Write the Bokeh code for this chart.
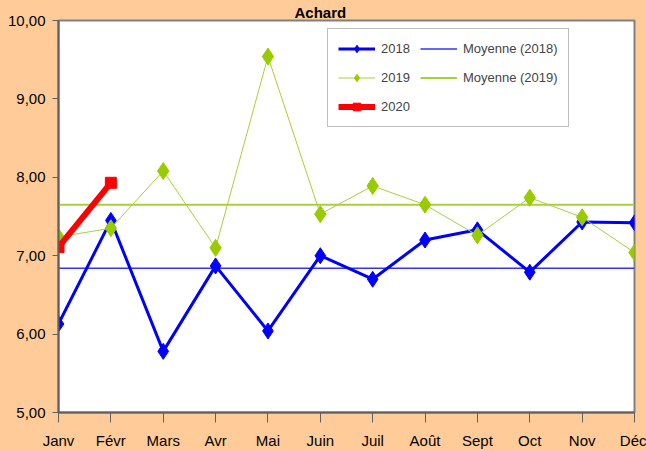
from bokeh.plotting import figure
from bokeh.models import Range1d, FixedTicker, Legend, LegendItem
from bokeh.embed import file_html
from bokeh.resources import INLINE

months = ["Janv", "Févr", "Mars", "Avr", "Mai", "Juin", "Juil", "Août", "Sept", "Oct", "Nov", "Déc"]
v2018 = [6.13, 7.45, 5.78, 6.87, 6.04, 7.00, 6.70, 7.20, 7.33, 6.79, 7.43, 7.42]
v2019 = [7.24, 7.35, 8.08, 7.10, 9.54, 7.53, 7.89, 7.65, 7.26, 7.74, 7.49, 7.04]
v2020 = [7.11, 7.93]
mean2018 = 6.84
mean2019 = 7.65
y_ticks = [5, 6, 7, 8, 9, 10]
y_tick_labels = ["5,00", "6,00", "7,00", "8,00", "9,00", "10,00"]
title_text = "Achard"

FONT = "'Liberation Sans Narrow', 'Liberation Sans', Arial, sans-serif"
PEACH = "#FFCC99"

x = list(range(len(months)))

p = figure(width=646, height=451, output_backend="svg", toolbar_location=None,
           x_range=Range1d(0, 11), y_range=Range1d(5, 10),
           min_border_left=58, min_border_right=12, min_border_top=20, min_border_bottom=38,
           background_fill_color="white", border_fill_color=PEACH)
p.outline_line_color = "#808080"
p.outline_line_width = 2
p.xgrid.visible = False
p.ygrid.visible = False

p.title.text = title_text
p.title.align = "left"
p.title.offset = 236
p.title.standoff = 0
p.title.text_font = FONT
p.title.text_font_size = "15px"
p.title.text_font_style = "bold"
p.title.text_color = "black"

# axes
p.xaxis.ticker = FixedTicker(ticks=x)
p.xaxis.major_label_overrides = {i: m for i, m in enumerate(months)}
p.yaxis.ticker = FixedTicker(ticks=y_ticks)
p.yaxis.major_label_overrides = {t: l for t, l in zip(y_ticks, y_tick_labels)}
for ax in (p.xaxis, p.yaxis):
    ax.axis_line_color = "#606060"
    ax.axis_line_width = 2
    ax.major_tick_line_color = "#606060"
    ax.major_tick_line_width = 1
    ax.major_tick_in = 0
    ax.minor_tick_line_color = None
    ax.major_label_text_font = FONT
    ax.major_label_text_font_size = "15px"
    ax.major_label_text_color = "black"
p.xaxis.major_tick_out = 10
p.xaxis.major_label_standoff = 9
p.yaxis.major_tick_out = 6
p.yaxis.major_label_standoff = 7

# mean lines
m18 = p.line([x[0], x[-1]], [mean2018, mean2018], line_color="#3333FF", line_width=1.5)
m19 = p.line([x[0], x[-1]], [mean2019, mean2019], line_color="#A6D13A", line_width=2)

# 2018
l18 = p.line(x, v2018, line_color="#0000FF", line_width=3)
s18 = p.scatter(x, v2018, marker="diamond", size=16, fill_color="#0000FF", line_color="#0000FF")
# 2019
l19 = p.line(x, v2019, line_color="#A6D13A", line_width=1)
s19 = p.scatter(x, v2019, marker="diamond", size=17, fill_color="#99CC00", line_color="#99CC00")
# 2020
l20 = p.line(x[:len(v2020)], v2020, line_color="#FF0000", line_width=6)
s20 = p.scatter(x[:len(v2020)], v2020, marker="square", size=11, fill_color="#FF0000", line_color="#FF0000")

legend = Legend(items=[
    LegendItem(label="2018", renderers=[l18, s18]),
    LegendItem(label="2019", renderers=[l19, s19]),
    LegendItem(label="2020", renderers=[l20, s20]),
    LegendItem(label="Moyenne (2018)", renderers=[m18]),
    LegendItem(label="Moyenne (2019)", renderers=[m19]),
], location=(269, 285), nrows=3, orientation="vertical",
    glyph_width=37, glyph_height=19, label_standoff=6, spacing=10, padding=10, margin=0,
    border_line_color="#808080", border_line_width=1,
    background_fill_color="white", background_fill_alpha=1,
    label_text_font=FONT, label_text_font_size="13px", label_height=19)
p.add_layout(legend)

html = file_html(p, INLINE)
html = html.replace("</head>", "<style>html,body{margin:0;padding:0;background:#FFCC99;overflow:hidden}</style></head>", 1)
open("out.html", "w").write(html)
